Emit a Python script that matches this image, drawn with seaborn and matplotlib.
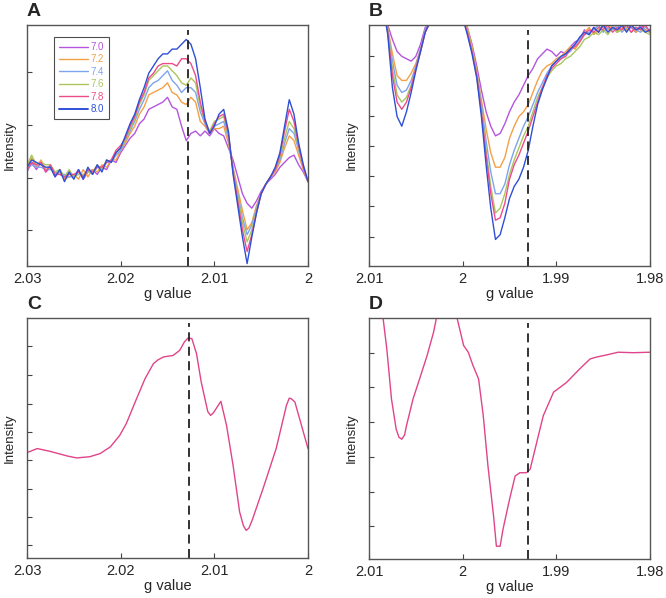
import numpy as np
import pandas as pd
import matplotlib
matplotlib.use("Agg")
import matplotlib.pyplot as plt
import seaborn as sns

sns.set_style("white")
plt.rcParams["font.family"] = ["Liberation Sans", "DejaVu Sans"]

# ---------------- data ----------------
ph_labels = ["7.0", "7.2", "7.4", "7.6", "7.8", "8.0"]
ph_colors = ["#B455E0", "#F4A046", "#7EA4EE", "#A9C75E", "#EE4B8A", "#2F4FD6"]

# Panel A: g from 2.030 down to 2.000 in steps of 0.0005 (61 points)
g_a = [round(2.030 - 0.0005 * i, 4) for i in range(61)]
a_70 = [39,43,40,43,39,41,37,40,36,39,37,40,36,39,40,38,41,40,44,43,47,
        50,53,55,59,61,65,66,
        67,68,70,66,65,58,52,55,56,54,
        56,54,57,55,54,49,
        44,37,30,26,24,27,31,34,36,
        38,41,43,45,46,42,39,35]
a_72 = [41,45,41,44,40,41,38,39,36,37,38,36,40,37,40,39,42,41,44,44,48,
        51,55,58,63,66,71,72,
        73,74,76,72,71,68,67,70,68,60,
        58,55,57,57,58,51,
        41,32,23,15,18,25,30,34,37,
        39,43,49,54,52,46,40,35]
a_74 = [40,42,41,41,40,40,39,38,38,37,37,39,37,40,38,41,40,43,43,46,48,
        52,56,60,65,69,74,76,
        77,79,81,77,75,72,74,74,72,64,
        59,55,58,59,60,53,
        40,30,20,13,17,24,30,34,37,
        40,44,51,57,55,48,41,35]
a_76 = [42,46,42,43,42,42,39,40,37,40,37,38,38,39,39,42,40,44,43,47,49,
        52,57,61,67,71,77,79,
        81,83,83,81,79,76,75,78,76,66,
        60,56,60,61,62,54,
        40,29,18,10,15,23,30,34,37,
        40,45,53,60,57,49,41,35]
a_78 = [40,43,42,43,39,42,38,38,37,38,38,39,37,40,39,41,41,43,44,48,50,
        53,58,62,68,72,78,80,
        83,84,84,84,83,86,86,84,79,68,
        60,55,59,62,63,55,
        39,27,15,6,13,22,30,34,37,
        40,46,56,65,60,50,41,35]
a_80 = [41,44,43,42,41,41,37,40,35,39,36,40,36,41,38,42,39,44,43,47,49,
        54,59,63,69,74,80,83,
        86,88,88,90,90,92,94,92,86,74,
        61,55,58,63,65,56,
        38,25,12,1,12,22,30,34,37,
        41,47,58,69,63,51,42,35]

# Panel B: g from 2.010 down to 1.980 in steps of 0.0005 (61 points)
g_b = [round(2.010 - 0.0005 * i, 4) for i in range(61)]
b_top = [130,125,118,108]
b_mid = [108,118,130,140,135,122,110,103]
b_70 = b_top + [100,94,89,87,86,85,87,92,99,100] + b_mid[1:] + [
        99,92,83,73,64,58,54,55,59,64,68,71,75,79,82,86,88,90,89,87,
        89,88,91,93,94,98,96,99,97,100,98,99,97,100,98,99,97,100,98,97]
b_72 = b_top + [99,88,79,77,77,80,84,90,98,101] + b_mid[1:] + [
        99,91,81,69,57,47,41,41,45,53,58,62,64,67,72,77,81,83,84,86,
        87,89,91,90,93,97,99,96,98,99,98,100,97,99,98,100,97,99,98,97]
b_74 = b_top + [98,85,75,72,73,77,83,90,98,101] + b_mid[1:] + [
        97,89,80,67,52,39,30,30,34,42,48,53,58,62,67,72,76,80,83,85,
        86,88,89,92,94,96,97,98,100,97,99,98,100,97,99,100,98,97,99,98]
b_76 = b_top + [98,82,71,68,70,75,82,89,97,101] + b_mid[1:] + [
        98,90,80,65,48,33,22,24,30,38,44,49,54,58,64,70,74,78,81,83,
        84,86,87,89,91,94,95,97,96,98,96,99,97,98,99,97,99,98,97,96]
b_78 = b_top + [97,79,68,65,68,74,82,89,97,101] + b_mid[1:] + [
        97,89,79,64,46,30,19,20,26,36,42,46,51,56,62,68,74,79,82,84,
        86,87,90,91,93,96,98,97,99,98,100,97,99,98,100,97,99,98,100,97]
b_80 = b_top + [96,74,62,58,64,72,81,89,97,101] + b_mid[1:] + [
        96,88,78,62,42,24,11,13,20,28,33,36,41,48,58,67,73,78,83,85,
        87,88,90,92,95,97,96,99,97,100,97,99,98,100,97,100,98,99,97,98]

# Panel C: single trace
g_c = [2.0300,2.0289,2.0275,2.0257,2.0247,2.0233,2.0222,2.0211,2.0201,2.0194,
       2.0183,2.0174,2.0165,2.0160,2.0154,2.0144,2.0137,2.0132,2.0128,2.0124,
       2.0119,2.0114,2.0107,2.0104,2.0101,2.0093,2.0087,2.0080,2.0073,2.0069,
       2.0066,2.0063,2.0059,2.0048,2.0034,2.0023,2.0020,2.0018,2.0014,2.0007,
       2.0000]
i_c = [43.9,45.6,44.4,42.5,41.7,42.2,43.5,46.3,51.1,56.0,
       66.4,74.7,81.0,82.6,83.8,84.4,86.5,90.0,91.7,91.4,
       85.1,73.3,61.0,59.4,60.5,65.3,55.3,38.6,19.2,13.5,
       11.5,12.5,16.4,28.9,45.6,63.6,66.6,66.4,65.0,55.3,
       45.6]

# Panel D: single trace
g_d = [2.0090,2.0085,2.0081,2.0076,2.0071,2.0068,2.0065,2.0062,2.0060,2.0053,
       2.0046,2.0038,2.0031,2.0028,2.0020,2.0013,2.0006,1.9999,1.9994,1.9989,
       1.9983,1.9978,1.9973,1.9967,1.9964,1.9960,1.9957,1.9950,1.9944,1.9939,
       1.9932,1.9928,1.9921,1.9914,1.9903,1.9889,1.9875,1.9864,1.9857,1.9846,
       1.9834,1.9818,1.9800]
i_d = [115,100,87.2,66.4,53.9,50.5,49.7,51.5,55.3,66.4,
       74.7,84.4,94.2,100,118,112,100,88.6,85.8,80.3,
       74.7,59.4,38.6,17.8,5.3,5.3,12.2,24.7,34.4,35.8,
       35.8,37.2,48.3,59.4,69.2,73.3,78.9,83.0,83.8,84.7,
       85.8,85.6,85.8]

# ---------------- figure ----------------
fig = plt.figure(figsize=(6.66, 5.98), dpi=100)
W, H = 666, 598
def add_ax(l, t, r, b):
    return fig.add_axes([l / W, 1 - b / H, (r - l) / W, (b - t) / H])

axA = add_ax(27, 25, 308, 266)
axB = add_ax(369, 25, 650, 266)
axC = add_ax(27, 318, 308, 558)
axD = add_ax(369, 318, 650, 559)

def long_df(g, series):
    rows = []
    for lab, vals in zip(ph_labels, series):
        rows.append(pd.DataFrame({"g": g, "I": vals, "pH": lab}))
    return pd.concat(rows, ignore_index=True)

dfA = long_df(g_a, [a_70, a_72, a_74, a_76, a_78, a_80])
dfB = long_df(g_b, [b_70, b_72, b_74, b_76, b_78, b_80])
pal = dict(zip(ph_labels, ph_colors))

sns.lineplot(data=dfA, x="g", y="I", hue="pH", palette=pal, ax=axA,
             linewidth=1.0, legend=False, estimator=None)
sns.lineplot(data=dfB, x="g", y="I", hue="pH", palette=pal, ax=axB,
             linewidth=1.0, legend=False, estimator=None)
sns.lineplot(x=g_c, y=i_c, ax=axC, color="#E0448A", linewidth=1.0, estimator=None)
sns.lineplot(x=g_d, y=i_d, ax=axD, color="#E0448A", linewidth=1.0, estimator=None)

# legend in A
from matplotlib.lines import Line2D
handles = [Line2D([0], [0], color=c, lw=1.4 if i == 5 else 1.0) for i, c in enumerate(ph_colors)]
leg = axA.legend(handles, ph_labels, loc="upper left", bbox_to_anchor=(0.096, 0.95),
                 borderaxespad=0.0,
                 frameon=True, fancybox=False, edgecolor="#222222", fontsize=7,
                 handlelength=3.0, handletextpad=0.3, labelspacing=0.25,
                 borderpad=0.5, labelcolor="linecolor")
leg.get_frame().set_linewidth(0.8)

yt = {
    axA: [14.8, 36.7, 58.5, 80.3],
    axB: [12.0, 24.8, 37.3, 49.7, 62.2, 74.7, 87.1],
    axC: [5.3, 17.1, 28.9, 40.7, 52.5, 64.3, 76.1, 88.2],
    axD: [13.6, 27.9, 42.4, 56.7, 71.25, 85.6],
}
for ax, (x0, x1, xt, xl, dash, letter) in {
    axA: (2.03, 2.00, [2.03, 2.02, 2.01, 2.00], ["2.03", "2.02", "2.01", "2"], 2.0128, "A"),
    axB: (2.01, 1.98, [2.01, 2.00, 1.99, 1.98], ["2.01", "2", "1.99", "1.98"], 1.9930, "B"),
    axC: (2.03, 2.00, [2.03, 2.02, 2.01, 2.00], ["2.03", "2.02", "2.01", "2"], 2.0127, "C"),
    axD: (2.01, 1.98, [2.01, 2.00, 1.99, 1.98], ["2.01", "2", "1.99", "1.98"], 1.9930, "D"),
}.items():
    ax.set_xlim(x0, x1)
    ax.set_ylim(0, 100)
    ax.set_xticks(xt)
    ax.set_xticklabels(xl, fontsize=10.5)
    ax.set_yticks(yt[ax])
    ax.set_yticklabels([])
    ax.tick_params(axis="both", direction="in", length=3.5, width=0.8, color="#444444",
                   pad=4, left=True, bottom=True)
    ax.axvline(dash, ymin=0, ymax=0.98, color="#222222", lw=1.3, ls=(0, (5, 3)))
    ax.set_xlabel("g value", fontsize=10.5, labelpad=1)
    ax.set_ylabel("Intensity", fontsize=9.5, labelpad=4)
    for s in ax.spines.values():
        s.set_color("#555555")
        s.set_linewidth(1.0)
    ax.text(0.0, 1.02, letter, transform=ax.transAxes, fontsize=14, fontweight="bold",
            ha="left", va="bottom")

fig.savefig("out.png", dpi=100)
